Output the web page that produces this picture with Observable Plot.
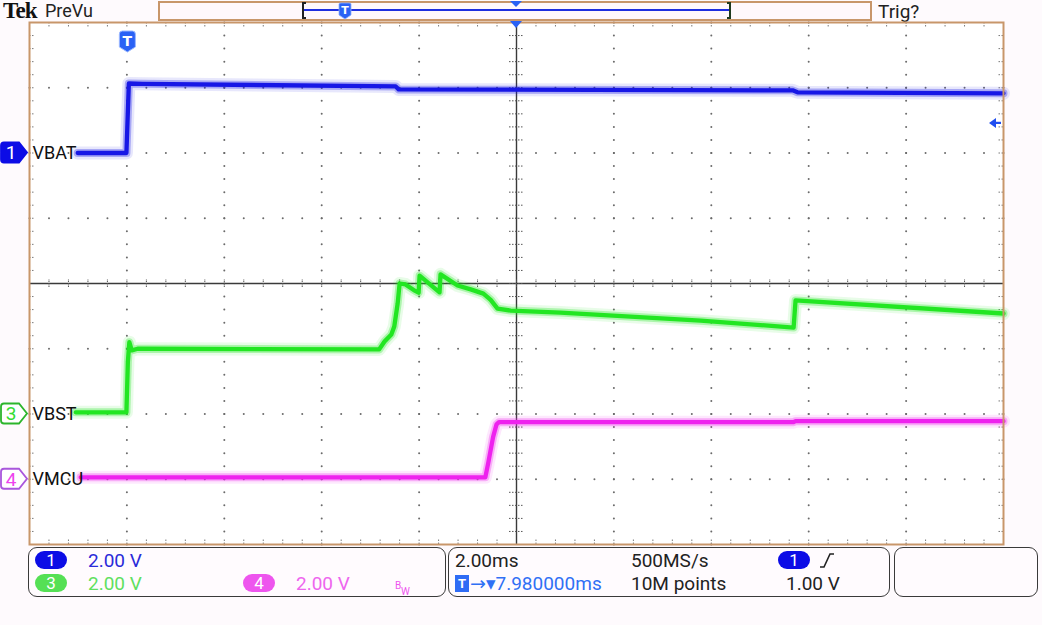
<!DOCTYPE html>
<html><head><meta charset="utf-8">
<script src="https://cdn.jsdelivr.net/npm/d3@7"></script>
<script src="https://cdn.jsdelivr.net/npm/@observablehq/plot@0.6"></script>
<style>
html,body{margin:0;padding:0;background:#fefafd;width:1042px;height:625px;overflow:hidden;font-family:Roboto,"DejaVu Sans",sans-serif;}
#wrap{position:relative;width:1042px;height:625px;}
.abs{position:absolute;white-space:nowrap;line-height:19px;height:19px;}
#chart{position:absolute;left:0;top:20px;}
.box{position:absolute;border:1.5px solid #3a3a3a;border-radius:9px;background:#fffbfe;box-sizing:border-box;}
.pill{position:absolute;width:32px;height:18px;border-radius:9px;color:#fff;font-size:17px;line-height:18px;text-align:center;}
.ft{font-size:19px;}
</style></head><body><div id="wrap">
<div id="header">
  <div class="abs" style="left:3px;top:1px;font-family:'Liberation Serif',serif;font-weight:bold;font-size:23px;letter-spacing:-0.8px;color:#111;">Tek</div>
  <div class="abs" style="left:45px;top:1px;font-size:18px;color:#222;">PreVu</div>
  <div style="position:absolute;left:158px;top:1px;width:714px;height:20px;border:2px solid #c8966a;box-sizing:border-box;background:#fff8fc;"></div>
  <svg style="position:absolute;left:0;top:0" width="1042" height="22">
    <line x1="304" y1="10" x2="730" y2="10" stroke="#1f2ee0" stroke-width="2"/>
    <path d="M306,3 H303 V18 H306" fill="none" stroke="#222" stroke-width="2"/>
    <path d="M727,3 H730 V18 H727" fill="none" stroke="#1f3a1f" stroke-width="2"/>
    <path d="M339,4 Q339,3 341,3 H349 Q351,3 351,4 V15 L345,19 L339,15 Z" fill="#2a62f5" stroke="#8fb0ff" stroke-width="0.8"/>
    <text x="345" y="14" text-anchor="middle" font-size="11" font-weight="bold" fill="#fff" font-family="DejaVu Sans">T</text>
    <path d="M510,1 H522 L516,7 Z" fill="#2a62f5"/>
  </svg>
  <div class="abs" style="left:878px;top:2px;font-size:19px;color:#222;">Trig?</div>
</div>
<div id="chart"></div>
<div id="footer">
  <div class="box" style="left:28px;top:547px;width:418px;height:50px;"></div>
  <div class="box" style="left:448px;top:547px;width:442px;height:50px;"></div>
  <div class="box" style="left:894px;top:547px;width:144px;height:50px;"></div>
  <div class="pill" style="left:35px;top:551px;background:#0c0ce6;">1</div>
  <div class="abs ft" style="left:88px;top:551px;color:#2b2bd9;">2.00 V</div>
  <div class="pill" style="left:35px;top:574px;background:#55e055;">3</div>
  <div class="abs ft" style="left:88px;top:574px;color:#5fe05f;">2.00 V</div>
  <div class="pill" style="left:243px;top:574px;background:#ee55ee;">4</div>
  <div class="abs ft" style="left:296px;top:574px;color:#ee66ee;">2.00 V</div>
  <div class="abs" style="left:395px;top:576px;font-size:10px;color:#ee55ee;">B</div>
  <div class="abs" style="left:401px;top:582px;font-size:10px;color:#ee55ee;">W</div>
  <div class="abs ft" style="left:455px;top:551px;color:#222;">2.00ms</div>
  <div class="abs ft" style="left:631px;top:551px;color:#222;">500MS/s</div>
  <div class="pill" style="left:778px;top:551px;background:#0c0ce6;">1</div>
  <svg style="position:absolute;left:818px;top:551px" width="20" height="20"><path d="M2,16 H6 L12,3 H16" fill="none" stroke="#222" stroke-width="1.6"/></svg>
  <div style="position:absolute;left:455px;top:575px;width:14px;height:17px;background:#2f6cf5;color:#fff;font-size:13px;font-weight:bold;line-height:17px;text-align:center;">T</div>
  <div class="abs ft" style="left:470px;top:574px;color:#3070f5;">→▾7.980000ms</div>
  <div class="abs ft" style="left:631px;top:574px;color:#222;">10M points</div>
  <div class="abs ft" style="left:786px;top:574px;color:#222;">1.00 V</div>
</div>
</div>
<script>
// ---- scope settings ----
const timeDomain = [-2.02, 17.98];     // ms, 2.00 ms/div, centre = 7.98 ms after trigger
const timePerDiv = 2.0;
const timeCenter = 7.98;
const voltsPerDiv = 2.0;
const ch1TriggerLevel = 1.00;           // V

// ---- channel names and positions (divisions) ----
const channelNames = ["VBAT", "VBST", "VMCU"];
const channelPositions = [2, -2, -3];
const channelColors = ["#1717e6", "#22e622", "#ee22ee"];

// ---- traces: time (ms) and volts ----
const vbatTime  = [-1.03, -0.03, 0.02, 0.3, 5.5, 5.56, 13.65, 13.75, 17.98];
const vbatVolts = [0.0, 0.0, 2.13, 2.12, 2.04, 1.95, 1.92, 1.86, 1.83];

const vbstTime  = [-1.07, -0.03, 0.0, 0.03, 0.08, 0.2, 5.16, 5.27, 5.41, 5.47, 5.54, 5.58, 5.70, 5.87, 5.97, 5.99, 6.40, 6.42, 6.77, 7.04, 7.30, 7.45, 7.59, 7.86, 8.88, 11.76, 13.67, 13.71, 17.98];
const vbstVolts = [0.05, 0.05, 1.6, 2.2, 1.95, 2.0, 1.98, 2.22, 2.44, 2.68, 3.39, 4.0, 3.97, 3.8, 3.72, 4.24, 3.73, 4.28, 3.94, 3.82, 3.69, 3.5, 3.23, 3.17, 3.11, 2.86, 2.65, 3.48, 3.08];

const vmcuTime  = [-0.97, 7.34, 7.40, 7.50, 7.57, 7.62, 13.67, 13.71, 17.98];
const vmcuVolts = [0.06, 0.06, 0.5, 1.3, 1.68, 1.75, 1.75, 1.78, 1.78];

const traceTimes = [vbatTime, vbstTime, vmcuTime];
const traceVolts = [vbatVolts, vbstVolts, vmcuVolts];

// ---- build tables ----
const series = channelNames.map((name, k) => ({
  name, color: channelColors[k], pos: channelPositions[k],
  rows: traceTimes[k].map((t, i) => ({t, div: traceVolts[k][i] / voltsPerDiv + channelPositions[k]}))
}));

const [t0, t1] = timeDomain;
const minorX = d3.range(0, 51).map(j => t0 + j * timePerDiv / 5);
const minorY = d3.range(0, 41).map(j => -4 + j * 0.2);
const majorX = d3.range(1, 10).filter(i => i !== 5).map(i => t0 + i * timePerDiv);
const majorY = [-3, -2, -1, 1, 2, 3];
const hDots = majorY.flatMap(y => minorX.map(x => ({x, y})));
const vDots = majorX.flatMap(x => minorY.map(y => ({x, y})));
const dx5 = timePerDiv * 5 / 487;   // ms per pixel approx (for tick lengths)
const dy1 = 8 / 522;                // div per pixel

const marks = [
  Plot.frame({fill: "white", stroke: "none"}),
  Plot.dot(hDots, {x: "x", y: "y", r: 1, fill: "#6a6a6a", stroke: "none"}),
  Plot.dot(vDots, {x: "x", y: "y", r: 1, fill: "#6a6a6a", stroke: "none"}),
  // border ticks
  Plot.ruleX(minorX, {y1: 4, y2: 4 - 5 * dy1, stroke: "#7a7a7a", strokeDasharray: "1.5,1.5"}),
  Plot.ruleX(minorX, {y1: -4, y2: -4 + 5 * dy1, stroke: "#7a7a7a", strokeDasharray: "1.5,1.5"}),
  Plot.ruleY(minorY, {x1: t0, x2: t0 + 5 * dx5, stroke: "#7a7a7a", strokeDasharray: "1.5,1.5"}),
  Plot.ruleY(minorY, {x1: t1, x2: t1 - 5 * dx5, stroke: "#7a7a7a", strokeDasharray: "1.5,1.5"}),
  // centre cross
  Plot.ruleY([0], {stroke: "#3a3a3a", strokeWidth: 1.4}),
  Plot.ruleX([timeCenter], {stroke: "#3a3a3a", strokeWidth: 1.4}),
  Plot.ruleX(minorX, {y1: -4 * dy1, y2: 4 * dy1, stroke: "#555", strokeDasharray: "1.5,1"}),
  Plot.ruleY(minorY, {x1: timeCenter - 7 * dx5, x2: timeCenter + 7 * dx5, stroke: "#555", strokeDasharray: "1.5,1.5"}),
];
for (const s of series) {
  marks.push(Plot.line(s.rows, {x: "t", y: "div", stroke: s.color, strokeWidth: 13, strokeOpacity: 0.1, strokeLinejoin: "round"}));
  marks.push(Plot.line(s.rows, {x: "t", y: "div", stroke: s.color, strokeWidth: 8, strokeOpacity: 0.3, strokeLinejoin: "round"}));
  marks.push(Plot.line(s.rows, {x: "t", y: "div", stroke: s.color, strokeWidth: 4.3, strokeLinejoin: "round"}));
}
marks.push(Plot.text(series, {x: () => t0, y: "pos", text: "name", dx: 3, textAnchor: "start", fontSize: 18, fontFamily: "Roboto", fill: "#111"}));
marks.push(Plot.frame({stroke: "#c8966a", strokeWidth: 2}));

const plot = Plot.plot({
  width: 1042, height: 528,
  marginTop: 2, marginBottom: 4, marginLeft: 29, marginRight: 39,
  x: {domain: timeDomain, axis: null},
  y: {domain: [-4, 4], axis: null},
  style: {background: "transparent", overflow: "visible"},
  marks
});
document.getElementById("chart").appendChild(plot);

// ---- scope markers placed through the plot's scales ----
const X = plot.scale("x"), Y = plot.scale("y");
const svg = d3.select(plot);
const g = svg.append("g");
const markerStyles = [
  {fill: "#0c0ce6", stroke: "#0c0ce6", text: "#ffffff", label: "1"},
  {fill: "#ffffff", stroke: "#2cb52c", text: "#33dd33", label: "3"},
  {fill: "#ffffff", stroke: "#a956dc", text: "#ee44ee", label: "4"}
];
series.forEach((s, k) => {
  const cy = Y.apply(s.pos), st = markerStyles[k];
  g.append("path")
    .attr("d", `M4,${cy-10} H19 L27,${cy} L19,${cy+10} H4 Q1,${cy+10} 1,${cy+7} V${cy-7} Q1,${cy-10} 4,${cy-10} Z`)
    .attr("fill", st.fill).attr("stroke", st.stroke).attr("stroke-width", 1.8);
  g.append("text").attr("x", 11).attr("y", cy).attr("dy", "0.36em").attr("text-anchor", "middle")
    .attr("font-family", "Roboto").attr("font-size", 19).attr("fill", st.text).text(st.label);
});
// trigger point marker
const tx = X.apply(0), ty = Y.apply(4);
g.append("path").attr("d", `M${tx-8},${ty+12} Q${tx-8},${ty+9} ${tx-5},${ty+9} H${tx+5} Q${tx+8},${ty+9} ${tx+8},${ty+12} V${ty+25} L${tx},${ty+30} L${tx-8},${ty+25} Z`)
  .attr("fill", "#2a62f5").attr("stroke", "#9ab8ff").attr("stroke-width", 1);
g.append("text").attr("x", tx).attr("y", ty + 19).attr("dy", "0.36em").attr("text-anchor", "middle")
  .attr("font-family", "DejaVu Sans").attr("font-weight", "bold").attr("font-size", 14).attr("fill", "#fff").text("T");
// horizontal position marker at top centre
const cx = X.apply(timeCenter);
g.append("path").attr("d", `M${cx-6},${ty-1} H${cx+6} L${cx},${ty+6} Z`).attr("fill", "#2a62f5");
// ch1 trigger level arrow at right
const ly = Y.apply(ch1TriggerLevel / voltsPerDiv + channelPositions[0]) + 3;
const rx = X.apply(t1);
g.append("path").attr("d", `M${rx-14},${ly} L${rx-7},${ly-5} V${ly+5} Z`).attr("fill", "#1f4ef0");
g.append("line").attr("x1", rx-8).attr("x2", rx-2).attr("y1", ly).attr("y2", ly).attr("stroke", "#1f4ef0").attr("stroke-width", 2.2);
</script>
</body></html>
